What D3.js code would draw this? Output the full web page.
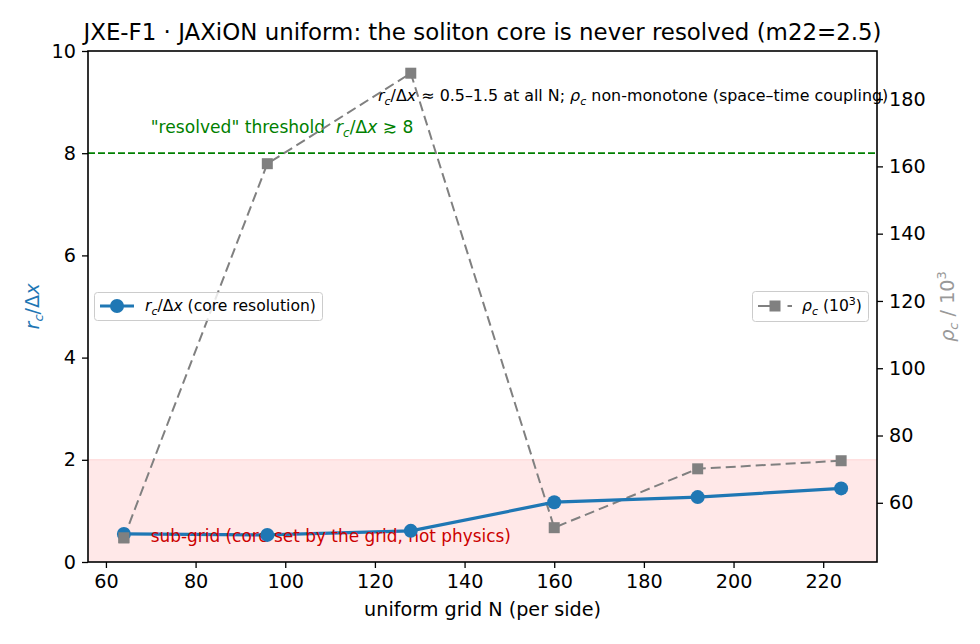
<!DOCTYPE html>
<html><head><meta charset="utf-8">
<script src="https://cdn.jsdelivr.net/npm/d3@7"></script>
<style>body{margin:0;background:#fff}svg{display:block}text{font-family:"DejaVu Sans",sans-serif}</style>
</head><body><svg id="c" width="980" height="644"></svg>
<script>
const N = [64, 96, 128, 160, 192, 224];
const rcDx = [0.55, 0.53, 0.61, 1.17, 1.27, 1.44];
const rhoC = [49.6, 160.8, 187.7, 52.6, 70.1, 72.5];
const xTicks = [60, 80, 100, 120, 140, 160, 180, 200, 220];
const yLeftTicks = [0, 2, 4, 6, 8, 10];
const yRightTicks = [60, 80, 100, 120, 140, 160, 180];
const threshold = 8;
const subgridTop = 2;

const W = 980, H = 644;
const m = {l: 88, t: 51, r: 103, b: 82};
const svg = d3.select("#c");
const x = d3.scaleLinear().domain([56, 232]).range([m.l, W - m.r]);
const yL = d3.scaleLinear().domain([0, 10]).range([H - m.b, m.t]);
const yR = d3.scaleLinear().domain([42.4, 194.3]).range([H - m.b, m.t]);
const FS = 19.2;

// sub-grid span
svg.append("rect").attr("x", x(56)).attr("width", x(232) - x(56))
  .attr("y", yL(subgridTop)).attr("height", yL(0) - yL(subgridTop))
  .attr("fill", "#ffe8e8");
svg.append("line").attr("x1", x(56)).attr("x2", x(232))
  .attr("y1", yL(subgridTop)).attr("y2", yL(subgridTop))
  .attr("stroke", "#ffd4d4").attr("stroke-width", 1);

// threshold
svg.append("line").attr("x1", x(56)).attr("x2", x(232))
  .attr("y1", yL(threshold)).attr("y2", yL(threshold))
  .attr("stroke", "green").attr("stroke-width", 1.8).attr("stroke-dasharray", "7,3");

// texts
const t1 = svg.append("text").attr("x", x(70)).attr("y", yL(8.4)).attr("fill", "green").attr("font-size", 17.1);
t1.append("tspan").text("\"resolved\" threshold\u00a0\u00a0");
t1.append("tspan").attr("font-style", "italic").text("r");
t1.append("tspan").attr("font-style", "italic").attr("font-size", 12).attr("dy", 4).text("c");
t1.append("tspan").attr("dy", -4).text("/Δ");
t1.append("tspan").attr("font-style", "italic").text("x");
t1.append("tspan").text(" ≳ 8");

const t2 = svg.append("text").attr("x", x(177.6)).attr("y", yL(9.02)).attr("text-anchor", "middle").attr("fill", "#000").attr("font-size", 15.9);
t2.append("tspan").attr("font-style", "italic").text("r");
t2.append("tspan").attr("font-style", "italic").attr("font-size", 11).attr("dy", 3.5).text("c");
t2.append("tspan").attr("dy", -3.5).text("/Δ");
t2.append("tspan").attr("font-style", "italic").text("x");
t2.append("tspan").text(" ≈ 0.5–1.5 at all N; ");
t2.append("tspan").attr("font-style", "italic").text("ρ");
t2.append("tspan").attr("font-style", "italic").attr("font-size", 11).attr("dy", 3.5).text("c");
t2.append("tspan").attr("dy", -3.5).text(" non-monotone (space–time coupling)");

// grey rho line
svg.append("path").datum(N.map((n, i) => [n, rhoC[i]]))
  .attr("d", d3.line().x(d => x(d[0])).y(d => yR(d[1])))
  .attr("fill", "none").attr("stroke", "gray").attr("stroke-width", 2).attr("stroke-dasharray", "10,5");
svg.selectAll(".sq").data(N.map((n, i) => [n, rhoC[i]])).enter().append("rect")
  .attr("x", d => x(d[0]) - 5.5).attr("y", d => yR(d[1]) - 5.5).attr("width", 11).attr("height", 11)
  .attr("fill", "gray");

// blue line
svg.append("path").datum(N.map((n, i) => [n, rcDx[i]]))
  .attr("d", d3.line().x(d => x(d[0])).y(d => yL(d[1])))
  .attr("fill", "none").attr("stroke", "#1f77b4").attr("stroke-width", 3.2);

svg.append("text").attr("x", x(70)).attr("y", yL(0.39)).attr("fill", "#cc0000").attr("font-size", 16.9)
  .text("sub-grid (core set by the grid, not physics)");

svg.selectAll(".ci").data(N.map((n, i) => [n, rcDx[i]])).enter().append("circle")
  .attr("cx", d => x(d[0])).attr("cy", d => yL(d[1])).attr("r", 7).attr("fill", "#1f77b4");
svg.append("rect").attr("x", x(N[0]) - 5.5).attr("y", yR(rhoC[0]) - 5.5).attr("width", 11).attr("height", 11).attr("fill", "gray");

// frame
svg.append("rect").attr("x", m.l).attr("y", m.t).attr("width", W - m.r - m.l).attr("height", H - m.b - m.t)
  .attr("fill", "none").attr("stroke", "#000").attr("stroke-width", 1.6);

// axes
function styleAxis(g) {
  g.select(".domain").remove();
  g.selectAll(".tick line").attr("stroke", "#000").attr("stroke-width", 1.3);
  g.selectAll(".tick text").attr("font-size", FS).attr("fill", "#000").attr("font-family", "DejaVu Sans");
}
svg.append("g").attr("transform", `translate(0,${H - m.b})`)
  .call(d3.axisBottom(x).tickValues(xTicks).tickSize(6).tickPadding(6).tickFormat(d3.format("d"))).call(styleAxis);
svg.append("g").attr("transform", `translate(${m.l},0)`)
  .call(d3.axisLeft(yL).tickValues(yLeftTicks).tickSize(6).tickPadding(6).tickFormat(d3.format("d"))).call(styleAxis);
svg.append("g").attr("transform", `translate(${W - m.r},0)`)
  .call(d3.axisRight(yR).tickValues(yRightTicks).tickSize(6).tickPadding(6).tickFormat(d3.format("d"))).call(styleAxis);

// title and labels
svg.append("text").attr("x", (m.l + W - m.r) / 2).attr("y", 40).attr("text-anchor", "middle")
  .attr("font-size", 22.9).attr("fill", "#000")
  .text("JXE-F1 · JAXiON uniform: the soliton core is never resolved (m22=2.5)");
svg.append("text").attr("x", (m.l + W - m.r) / 2).attr("y", 616).attr("text-anchor", "middle")
  .attr("font-size", FS).attr("fill", "#000").text("uniform grid N (per side)");

const yl = svg.append("text").attr("transform", `translate(39,${(m.t + H - m.b) / 2}) rotate(-90)`)
  .attr("text-anchor", "middle").attr("fill", "#1f77b4").attr("font-size", FS);
yl.append("tspan").attr("font-style", "italic").text("r");
yl.append("tspan").attr("font-style", "italic").attr("font-size", 13).attr("dy", 4).text("c");
yl.append("tspan").attr("dy", -4).text("/Δ");
yl.append("tspan").attr("font-style", "italic").text("x");

const yr = svg.append("text").attr("transform", `translate(954,${(m.t + H - m.b) / 2}) rotate(-90)`)
  .attr("text-anchor", "middle").attr("fill", "#999").attr("font-size", FS);
yr.append("tspan").attr("font-style", "italic").text("ρ");
yr.append("tspan").attr("font-style", "italic").attr("font-size", 13).attr("dy", 4).text("c");
yr.append("tspan").attr("dy", -4).text(" / 10");
yr.append("tspan").attr("font-size", 13).attr("dy", -8).text("3");

// legends
const lg1 = svg.append("g");
lg1.append("rect").attr("x", 94.5).attr("y", 292.5).attr("width", 228).attr("height", 28).attr("rx", 3)
  .attr("fill", "#fff").attr("fill-opacity", 0.8).attr("stroke", "#ccc");
lg1.append("line").attr("x1", 100).attr("x2", 134).attr("y1", 306).attr("y2", 306).attr("stroke", "#1f77b4").attr("stroke-width", 3.2);
lg1.append("circle").attr("cx", 117).attr("cy", 306).attr("r", 7).attr("fill", "#1f77b4");
const l1t = lg1.append("text").attr("x", 145).attr("y", 311).attr("font-size", 15.6).attr("fill", "#000");
l1t.append("tspan").attr("font-style", "italic").text("r");
l1t.append("tspan").attr("font-style", "italic").attr("font-size", 11).attr("dy", 3.5).text("c");
l1t.append("tspan").attr("dy", -3.5).text("/Δ");
l1t.append("tspan").attr("font-style", "italic").text("x");
l1t.append("tspan").text(" (core resolution)");

const lg2 = svg.append("g");
lg2.append("rect").attr("x", 752.5).attr("y", 291.5).attr("width", 116).attr("height", 30).attr("rx", 3)
  .attr("fill", "#fff").attr("fill-opacity", 0.8).attr("stroke", "#ccc");
lg2.append("line").attr("x1", 758).attr("x2", 792).attr("y1", 306).attr("y2", 306).attr("stroke", "gray").attr("stroke-width", 2).attr("stroke-dasharray", "13,5.5,2,9");
lg2.append("rect").attr("x", 769.5).attr("y", 300.5).attr("width", 11).attr("height", 11).attr("fill", "gray");
const l2t = lg2.append("text").attr("x", 802).attr("y", 311).attr("font-size", 15.6).attr("fill", "#000");
l2t.append("tspan").attr("font-style", "italic").text("ρ");
l2t.append("tspan").attr("font-style", "italic").attr("font-size", 11).attr("dy", 3.5).text("c");
l2t.append("tspan").attr("dy", -3.5).text(" (10");
l2t.append("tspan").attr("font-size", 11).attr("dy", -6).text("3");
l2t.append("tspan").attr("dy", 6).text(")");
</script></body></html>
